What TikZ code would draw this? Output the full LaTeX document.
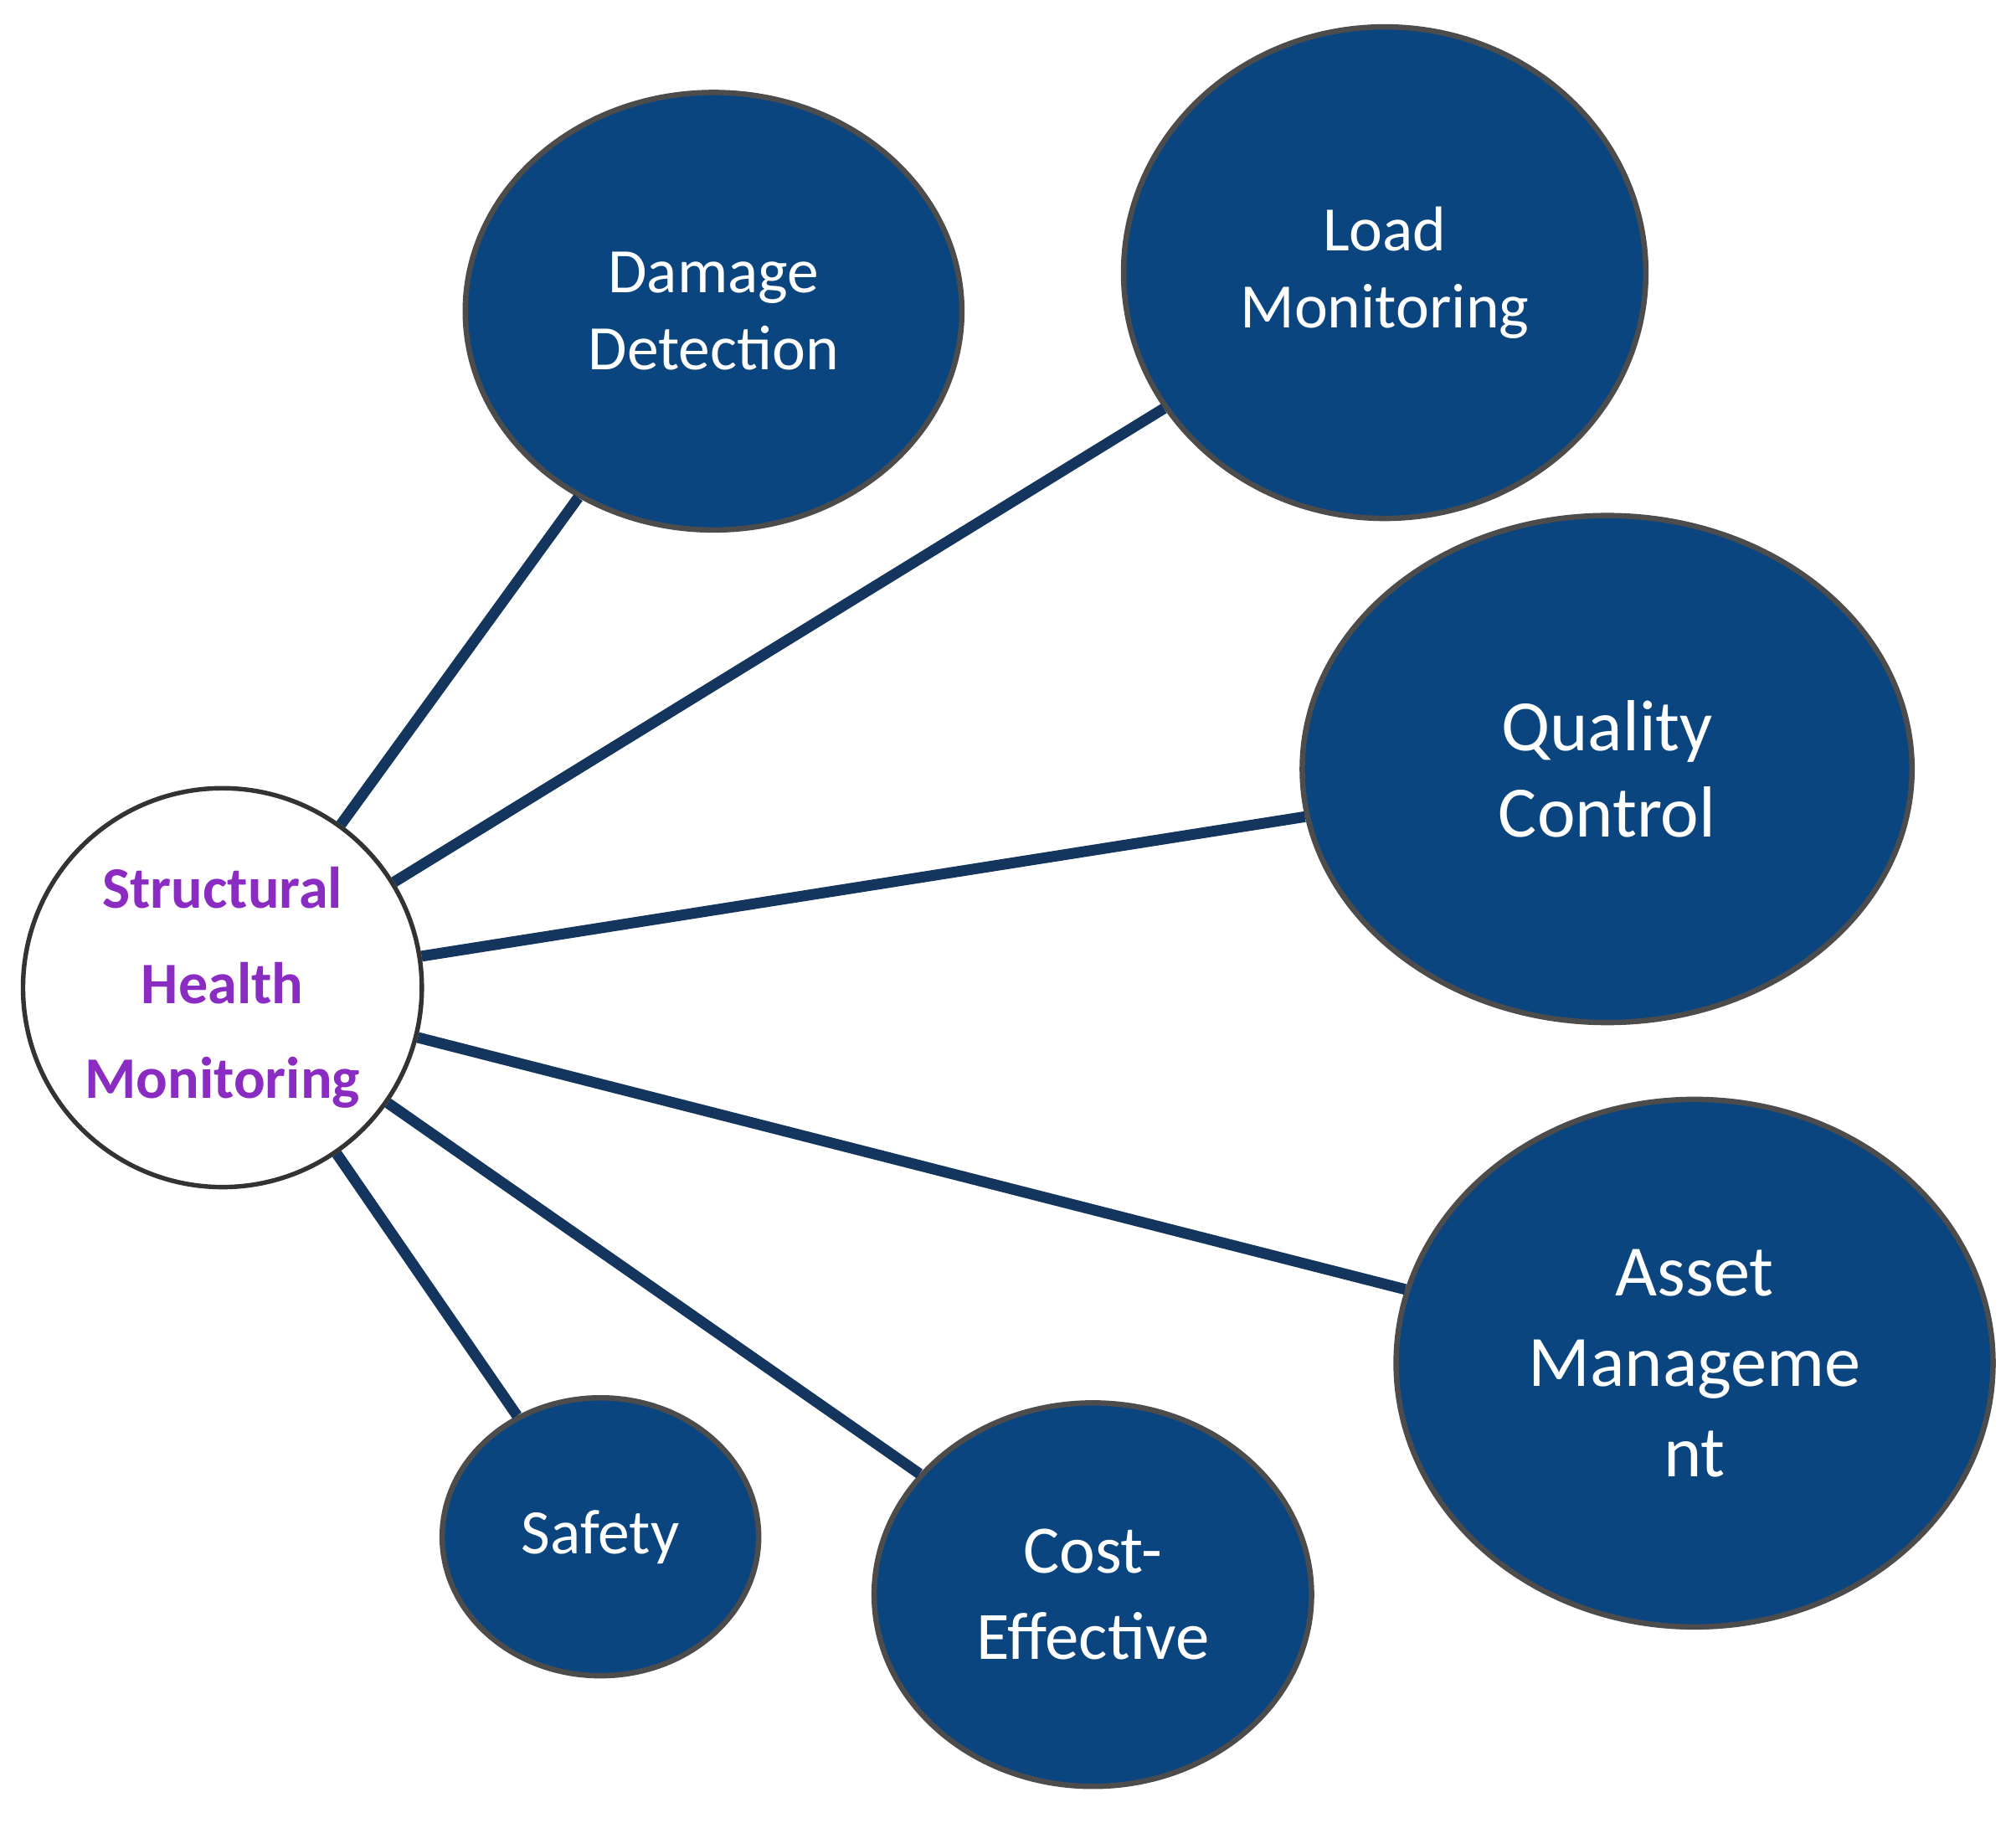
\documentclass[tikz,border=0pt]{standalone}
\usepackage{fontspec}
\setmainfont{Carlito}
\usetikzlibrary{shapes.geometric}
\definecolor{navy}{HTML}{0B4580}
\definecolor{linec}{HTML}{14365E}
\definecolor{purp}{HTML}{8A2BC2}
\begin{document}
\begin{tikzpicture}[x=0.01cm,y=-0.01cm,
  bub/.style={ellipse,fill=navy,draw=black!70,line width=1.2pt,text=white,align=center,font=\fontsize{14}{17}\selectfont,inner sep=0pt},
  con/.style={draw=linec,line width=2.4pt}]
\useasboundingbox (0,0) rectangle (1568,1417);
\node[bub,minimum width=3.86cm,minimum height=3.40cm] (dd) at (555,242) {Damage\\Detection};
\node[bub,minimum width=4.06cm,minimum height=3.82cm] (lm) at (1077,212) {Load\\Monitoring};
\node[bub,minimum width=4.74cm,minimum height=3.94cm,font=\fontsize{16}{19}\selectfont] (qc) at (1250,598) {Quality\\Control};
\node[bub,minimum width=4.64cm,minimum height=4.10cm,font=\fontsize{16}{20}\selectfont] (am) at (1318,1060) {Asset\\Manageme\\nt};
\node[bub,minimum width=3.40cm,minimum height=2.98cm,font=\fontsize{15}{19}\selectfont] (ce) at (850,1240) {Cost-\\Effective};
\node[bub,minimum width=2.46cm,minimum height=2.16cm] (sa) at (467,1195) {Safety};
\node[circle,draw=black!80,line width=1pt,fill=white,minimum size=3.10cm,inner sep=0pt,align=center,text=purp,font=\fontsize{13}{21}\selectfont\bfseries] (shm) at (173,768) {Structural\\Health\\Monitoring};
\draw[con] (shm) -- (dd);
\draw[con] (shm) -- (lm);
\draw[con] (shm) -- (qc);
\draw[con] (shm) -- (am);
\draw[con] (shm) -- (ce);
\draw[con] (shm) -- (sa);
\end{tikzpicture}
\end{document}
